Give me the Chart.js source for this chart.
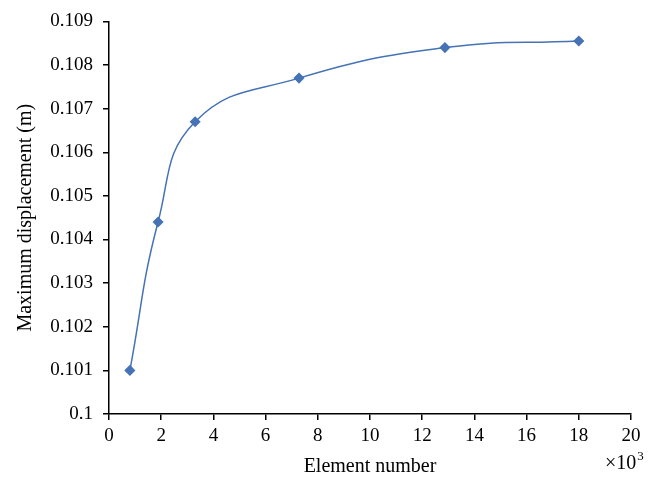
<!DOCTYPE html>
<html>
<head>
<meta charset="utf-8">
<script src="https://cdn.jsdelivr.net/npm/chart.js@4"></script>
<style>
  html, body { margin: 0; padding: 0; background: #fff; }
  #wrap { width: 656px; height: 482px; }
</style>
</head>
<body>
<div id="wrap"><canvas id="c" width="656" height="482"></canvas></div>
<script>
// element number (x10^3) and maximum displacement (m)
const elements = [0.8, 1.88, 3.3, 7.28, 12.87, 18.0]
const displacement = [0.101, 0.1044, 0.1067, 0.1077, 0.1084, 0.10855]
const xTicks = [0, 2, 4, 6, 8, 10, 12, 14, 16, 18, 20]
const yTicks = [0.1, 0.101, 0.102, 0.103, 0.104, 0.105, 0.106, 0.107, 0.108, 0.109]

const family = "'Liberation Serif', 'DejaVu Serif', serif"
const tickFont = { family: family, size: 19 }
const titleFont = { family: family, size: 20 }
const lineColor = '#4573b5'

// the "x10^3" note under the right end of the x axis
const expNote = {
    id: 'expNote',
    afterDraw(chart) {
        const ctx = chart.ctx
        const x = chart.scales.x.right
        ctx.save()
        ctx.fillStyle = '#000'
        ctx.font = "20px 'Liberation Serif', serif"
        ctx.textBaseline = 'alphabetic'
        ctx.textAlign = 'left'
        const base = '\u00d710'
        const w = ctx.measureText(base).width
        ctx.fillText(base, x - 26, 469)
        ctx.font = "13px 'Liberation Serif', serif"
        ctx.fillText('3', x - 26 + w + 1, 460)
        ctx.restore()
    }
}

const data = {
    datasets: [{
        label: 'Maximum displacement',
        data: elements.map((e, i) => ({ x: e, y: displacement[i] })),
        borderColor: lineColor,
        backgroundColor: lineColor,
        borderWidth: 1.5,
        pointStyle: 'rectRot',
        pointRadius: 4.5,
        pointHoverRadius: 4.5,
        tension: 0.45,
        fill: false
    }]
}

const config = {
    type: 'scatter',
    data: data,
    options: {
        responsive: false,
        animation: false,
        showLine: true,
        layout: { padding: { left: 0, right: 25, top: 16, bottom: 0 } },
        plugins: {
            legend: { display: false },
            tooltip: { enabled: false }
        },
        scales: {
            x: {
                type: 'linear',
                min: 0,
                max: 20,
                afterBuildTicks: s => { s.ticks = xTicks.map(v => ({ value: v })) },
                afterFit: s => { s.height = 68 },
                ticks: { color: '#000', font: tickFont, padding: 5, maxRotation: 0 },
                grid: { drawOnChartArea: false, drawTicks: true, tickLength: 6, color: '#000', lineWidth: 1.5 },
                border: { display: true, color: '#000', width: 1.5 },
                title: { display: true, text: 'Element number', color: '#000', font: titleFont, padding: { top: 0, bottom: 3 } }
            },
            y: {
                type: 'linear',
                min: 0.1,
                max: 0.109,
                afterBuildTicks: s => { s.ticks = yTicks.map(v => ({ value: v })) },
                afterFit: s => { s.width = 109 },
                ticks: {
                    color: '#000', font: tickFont, padding: 10,
                    callback: v => String(parseFloat(v.toFixed(3)))
                },
                grid: { drawOnChartArea: false, drawTicks: true, tickLength: 6, color: '#000', lineWidth: 1.5 },
                border: { display: true, color: '#000', width: 1.5 },
                title: { display: true, text: 'Maximum displacement (m)', color: '#000', font: titleFont, padding: { top: 14, bottom: 0 } }
            }
        }
    },
    plugins: [expNote]
}

let ctx = document.getElementById('c').getContext('2d')
new Chart(ctx, config)
</script>
</body>
</html>
